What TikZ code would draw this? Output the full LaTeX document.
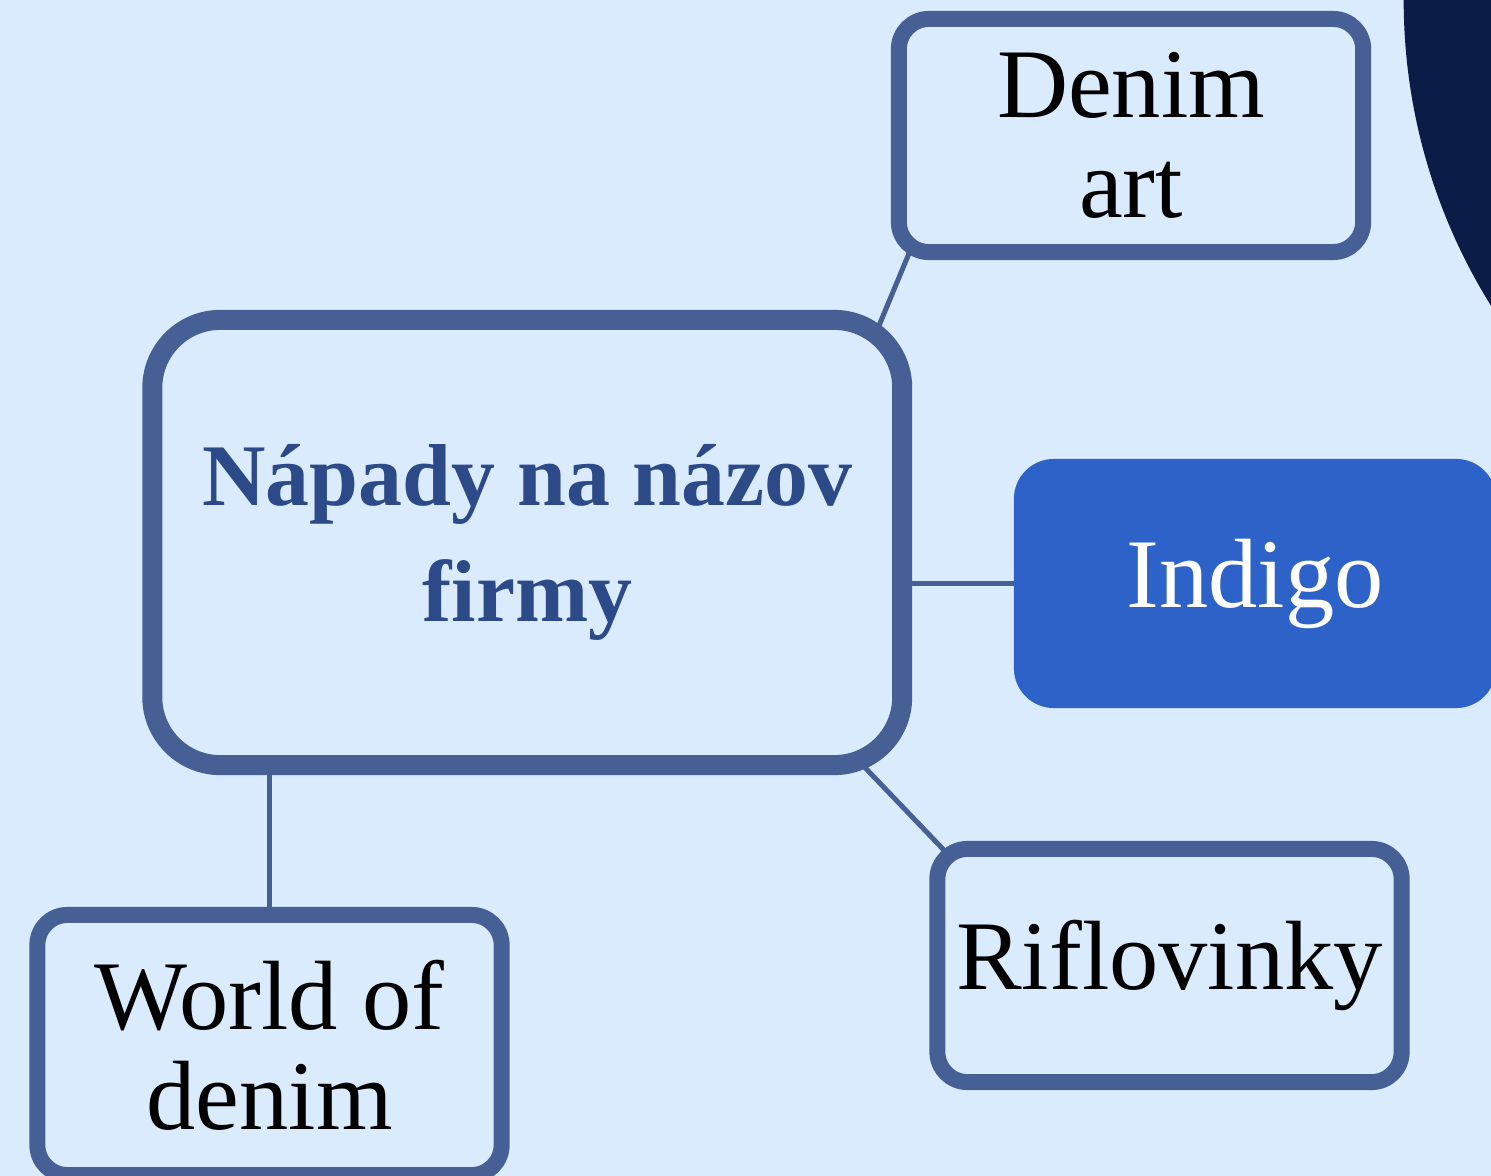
\documentclass[tikz,border=0pt]{standalone}
\usepackage{fontspec}
\setmainfont{Liberation Serif}
\usepackage{tikz}
\definecolor{paper}{HTML}{DAEBFE}
\definecolor{edge}{HTML}{465F95}
\definecolor{titleblue}{HTML}{2B4A87}
\definecolor{indigo}{HTML}{2D63C8}
\definecolor{navy}{HTML}{0B1C46}
\pgfdeclarelayer{back}
\pgfsetlayers{back,main}

\begin{document}
\begin{tikzpicture}[
    x=0.01cm, y=-0.01cm,
    every node/.style={align=center, inner sep=0pt},
    idea/.style={draw=edge, fill=paper, line width=0.2cm, rounded corners=0.68cm,
      minimum width=7.495cm, minimum height=4.45cm, text=titleblue,
      font=\fontsize{25pt}{33pt}\selectfont\bfseries},
    leaf/.style={draw=edge, fill=paper, line width=0.16cm, rounded corners=0.3cm,
      minimum width=4.64cm, minimum height=2.33cm,
      font=\fontsize{28pt}{28.5pt}\selectfont},
    link/.style={draw=edge, line width=0.05cm}]

      \useasboundingbox (0,0) rectangle (1491,1176);

      \node[idea] (idea) at (527.25,542.5) {Nápady na názov\\firmy};

      \node[leaf] (denim) at (1131,135.5) {Denim\\art};
      \node[leaf, draw=none, fill=indigo, text=white, outer sep=0pt,
            minimum width=4.82cm, minimum height=2.49cm, rounded corners=0.4cm]
            (indigo) at (1255,583.5) {Indigo};
      \node[leaf] (rifle) at (1169.5,965.5) {Riflovinky};
      \node[leaf, minimum height=2.6cm] (world) at (269.5,1045) {World of\\denim};

      \begin{pgfonlayer}{back}
        \fill[paper] (0,0) rectangle (1491,1176);
        \fill[navy] (1982,0) circle [radius=5.78cm];

        % links
        \draw[link, shorten <=-12pt, shorten >=-6pt] (idea.33) -- (denim.209);
        \draw[link] (indigo.west) -- (indigo.west -| idea.east);
        \draw[link, shorten <=-12pt, shorten >=-6pt] (idea.326) -- (rifle.152);
        \draw[link] (world.north) -- (world.north |- idea.south);
      \end{pgfonlayer}

    \end{tikzpicture}
\end{document}
